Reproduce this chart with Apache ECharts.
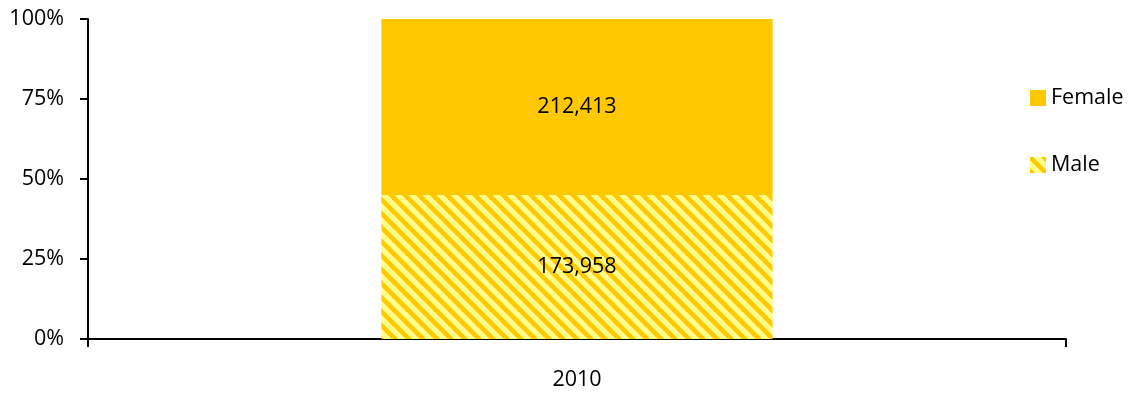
<!DOCTYPE html>
<html>
<head>
<meta charset="utf-8">
<script src="https://cdn.jsdelivr.net/npm/echarts@6/dist/echarts.min.js"></script>
<style>
  html, body { margin: 0; padding: 0; background: #fff; }
  #chart { width: 1133px; height: 395px; }
</style>
</head>
<body>
<div id="chart"></div>
<script>
// Population by sex, shown as share of total
const categories = ['2010'];
const maleCounts = [173958];
const femaleCounts = [212413];
const yTickLabels = ['0%', '25%', '50%', '75%', '100%'];

const FONT = 'Open Sans';
const FONT_SIZE = 21.5;

// Diagonal striped fill for the Male series
function stripeTile() {
  const size = 14;
  const c = document.createElement('canvas');
  c.width = size; c.height = size;
  const g = c.getContext('2d');
  g.fillStyle = '#FFFF8E';
  g.fillRect(0, 0, size, size);
  g.strokeStyle = '#FFC800';
  g.lineWidth = 4.6;
  for (let k = -size; k <= size; k += size) {
    g.beginPath();
    g.moveTo(k - 2, -2);
    g.lineTo(k + size + 2, size + 2);
    g.stroke();
  }
  return c;
}

const totals = categories.map((_, i) => maleCounts[i] + femaleCounts[i]);
const malePct = maleCounts.map((v, i) => v / totals[i] * 100);
const femalePct = femaleCounts.map((v, i) => v / totals[i] * 100);

const fmt = n => n.toLocaleString('en-US');

const chart = echarts.init(document.getElementById('chart'), null, { renderer: 'canvas' });
chart.setOption({
  animation: false,
  textStyle: { fontFamily: FONT },
  grid: { left: 88, right: 67, top: 19, bottom: 56 },
  legend: {
    orient: 'vertical',
    left: 1025,
    top: 82,
    itemWidth: 16,
    itemHeight: 16,
    itemGap: 45,
    icon: 'rect',
    data: ['Female', 'Male'],
    textStyle: { fontFamily: FONT, fontSize: FONT_SIZE, color: '#000' },
    selectedMode: false
  },
  xAxis: {
    type: 'category',
    data: categories,
    axisLine: { show: true, lineStyle: { color: '#000', width: 2 } },
    axisTick: { show: true, length: 8, lineStyle: { color: '#000', width: 2 } },
    axisLabel: { margin: 30, fontSize: FONT_SIZE, color: '#000', fontFamily: FONT },
    splitLine: { show: false }
  },
  yAxis: {
    type: 'value',
    min: 0,
    max: 100,
    interval: 25,
    axisLine: { show: true, lineStyle: { color: '#000', width: 2 } },
    axisTick: { show: true, length: 8, lineStyle: { color: '#000', width: 2 } },
    axisLabel: {
      margin: 24,
      fontSize: FONT_SIZE,
      color: '#000',
      fontFamily: FONT,
      formatter: v => yTickLabels[Math.round(v / 25)]
    },
    splitLine: { show: false }
  },
  series: [
    {
      name: 'Male',
      type: 'bar',
      stack: 'total',
      barWidth: '40%',
      data: malePct,
      itemStyle: { color: { image: stripeTile(), repeat: 'repeat' } },
      label: {
        show: true,
        position: 'inside',
        fontSize: FONT_SIZE,
        color: '#000',
        fontFamily: FONT,
        formatter: p => fmt(maleCounts[p.dataIndex])
      }
    },
    {
      name: 'Female',
      type: 'bar',
      stack: 'total',
      barWidth: '40%',
      data: femalePct,
      itemStyle: { color: '#FFC800' },
      label: {
        show: true,
        position: 'inside',
        fontSize: FONT_SIZE,
        color: '#000',
        fontFamily: FONT,
        formatter: p => fmt(femaleCounts[p.dataIndex])
      }
    }
  ]
});
</script>
</body>
</html>
